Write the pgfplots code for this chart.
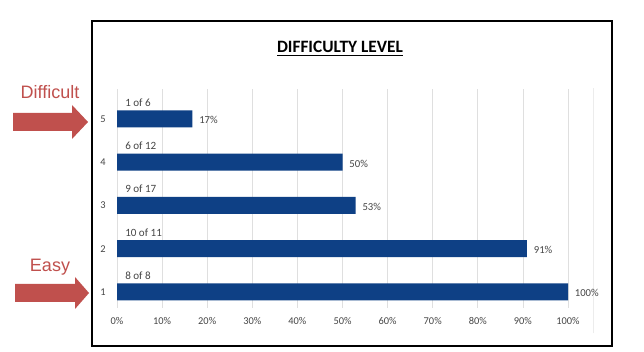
\documentclass[border=0pt]{standalone}
\usepackage{fontspec}
\setmainfont{Carlito}
\newfontfamily\arialfont{Liberation Sans}
\usepackage{pgfplots}
\pgfplotsset{compat=1.18}
\definecolor{barblue}{RGB}{14,64,133}
\definecolor{arrowred}{RGB}{192,80,77}
\definecolor{tickgray}{RGB}{70,70,70}
\begin{document}
\begin{tikzpicture}
\begin{scope}[x=0.75pt,y=0.75pt]
\path[use as bounding box] (0,0) rectangle (644,351);
\fill[white] (0,0) rectangle (644,351);
\draw[black, line width=1.1pt] (92,5) rectangle (612,330);
\draw[gray!15, line width=0.6pt] (593,18) -- (593,263);
\node[anchor=base, font=\bfseries\fontsize{13}{15}\selectfont] at (340,298) {\underline{DIFFICULTY LEVEL}};
\fill[arrowred] (13,238) -- (72,238) -- (72,246) -- (88,229) -- (72,212) -- (72,220) -- (13,220) -- cycle;
\fill[arrowred] (15,67) -- (75,67) -- (75,74) -- (89,58) -- (75,42) -- (75,49) -- (15,49) -- cycle;
\node[font=\arialfont\fontsize{13.5}{16}\selectfont, text=arrowred] at (50,259) {Difficult};
\node[font=\arialfont\fontsize{13.5}{16}\selectfont, text=arrowred] at (50,84) {Easy};
\end{scope}
\begin{axis}[
  at={(87.75pt,32.25pt)}, anchor=south west, scale only axis,
  width=338.25pt, height=164.25pt,
  xmin=0, xmax=100, ymin=0.63, ymax=5.69,
  axis line style={draw=none}, tick style={draw=none},
  xtick={0,10,...,100}, ytick={1,2,3,4,5},
  xmajorgrids, grid style={draw=gray!25, line width=0.6pt},
  /pgf/number format/assume math mode=true,
  ticklabel style={font=\fontsize{7.8}{9}\selectfont, text=tickgray},
  xticklabel={\pgfmathprintnumber{\tick}\%},
  xticklabel style={yshift=-3.5pt},
  yticklabel style={xshift=-5pt},
  clip=false,
]
\addplot[xbar, bar width=12.75pt, fill=barblue, draw=none,
  point meta=explicit,
  nodes near coords={\pgfmathprintnumber{\pgfplotspointmeta}\%},
  nodes near coords style={anchor=west, inner sep=0pt, xshift=5pt, yshift=-1pt,
    font=\fontsize{8}{9}\selectfont, text=tickgray}]
  table[meta=p] {
x y p
100 1 100
90.9 2 91
52.9 3 53
50 4 50
16.7 5 17
};
\addplot[draw=none, mark=none, point meta=explicit symbolic,
  nodes near coords,
  nodes near coords style={anchor=west, inner sep=0pt, xshift=6pt,
    font=\fontsize{8.3}{9.5}\selectfont, text=tickgray}]
  table[meta=lbl, col sep=comma] {
x,y,lbl
0,1.38,8 of 8
0,2.38,10 of 11
0,3.38,9 of 17
0,4.38,6 of 12
0,5.38,1 of 6
};
\end{axis}
\end{tikzpicture}
\end{document}
